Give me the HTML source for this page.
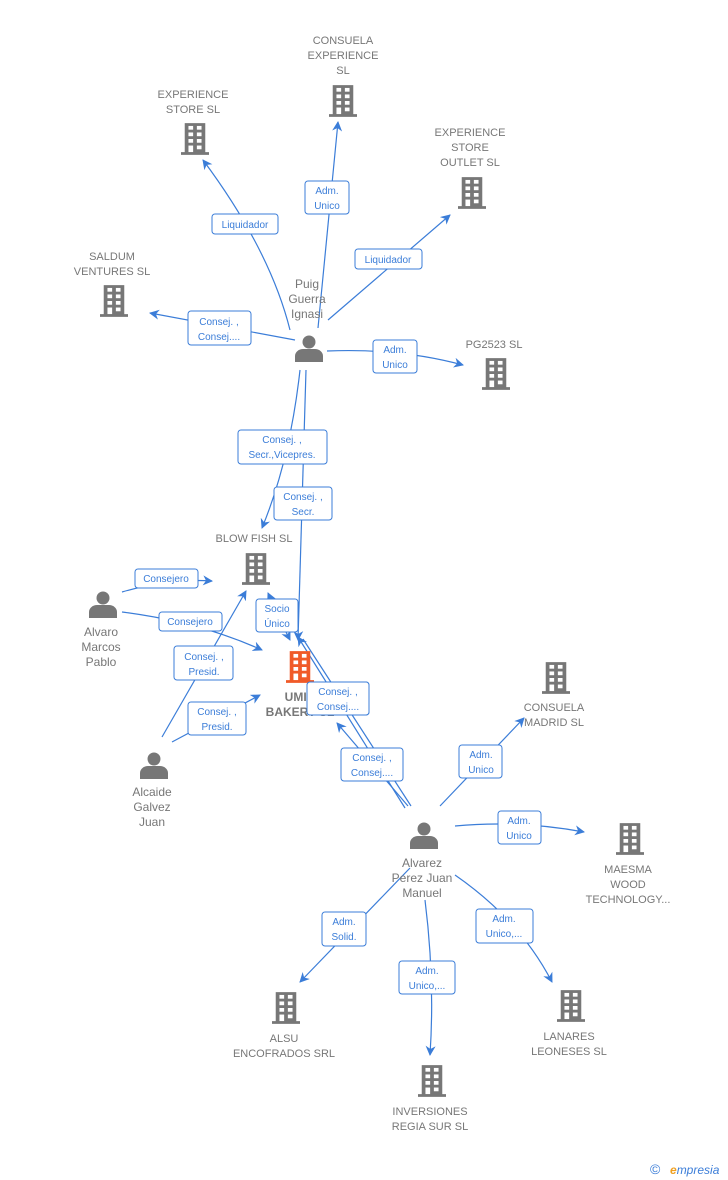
<!DOCTYPE html>
<html><head><meta charset="utf-8"><style>
body{margin:0;background:#fff;width:728px;height:1180px;overflow:hidden}
svg{display:block}
.n{font:11px "Liberation Sans",sans-serif;fill:#777;text-anchor:middle}
.p{font:12px "Liberation Sans",sans-serif;fill:#777;text-anchor:middle}
.l{font:10px "Liberation Sans",sans-serif;fill:#3b7dd8;text-anchor:middle}
.e{stroke:#3b7dd8;stroke-width:1.2;fill:none}
.b{fill:#fff;stroke:#3b7dd8;stroke-width:1}
</style></head><body>
<svg width="728" height="1180" viewBox="0 0 728 1180">
<defs>
<symbol id="bld" viewBox="0 0 30 34"><path fill="currentColor" d="M4 0h22v31h4v3H0v-3h4z"/><g fill="#fff"><rect x="8" y="3" width="5" height="4"/><rect x="17" y="3" width="5" height="4"/><rect x="8" y="10" width="5" height="4"/><rect x="17" y="10" width="5" height="4"/><rect x="8" y="17" width="5" height="4"/><rect x="17" y="17" width="5" height="4"/><rect x="8" y="24" width="5" height="7"/><rect x="17" y="24" width="5" height="4"/></g></symbol>
<symbol id="per" viewBox="0 0 28 28"><circle cx="14" cy="8" r="6.5" fill="#777"/><path fill="#777" d="M0 28v-6c0-4 4-7 8-7h12c4 0 8 3 8 7v6z"/></symbol>
<marker id="a" markerWidth="10" markerHeight="10" refX="9" refY="5" orient="auto" markerUnits="userSpaceOnUse"><path d="M0 0L10 5L0 10L3 5z" fill="#3b7dd8"/></marker>
</defs>
<g class="e" marker-end="url(#a)">
<path d="M290 330Q270 250 203 160"/>
<path d="M318 328L338 122"/>
<path d="M328 320L450 215"/>
<path d="M295 340L150 313"/>
<path d="M327 351Q400 348 463 365"/>
<path d="M300 370Q290 460 262 528"/>
<path d="M306 370L298 640"/>
<path d="M122 592Q170 578 212 581"/>
<path d="M122 612Q200 622 262 650"/>
<path d="M162 737L246 591"/>
<path d="M172 742L260 695"/>
<path d="M285 630L268 593"/>
<path d="M270 600L290 640"/>
<path d="M405 808L298 637"/>
<path d="M408 806L337 723"/>
<path d="M440 806L524 718"/>
<path d="M455 826Q520 820 584 832"/>
<path d="M410 868L300 982"/>
<path d="M425 900Q435 980 430 1055"/>
<path d="M455 875Q520 920 552 982"/>
</g>
<path class="e" d="M411 806L303 639"/>
<g>
<rect class="b" x="212" y="214" width="66" height="20" rx="3"/><text class="l" x="245" y="228">Liquidador</text>
<rect class="b" x="305" y="181" width="44" height="33" rx="3"/><text class="l" x="327" y="194">Adm.</text><text class="l" x="327" y="209">Unico</text>
<rect class="b" x="355" y="249" width="67" height="20" rx="3"/><text class="l" x="388" y="263">Liquidador</text>
<rect class="b" x="188" y="311" width="63" height="34" rx="3"/><text class="l" x="219" y="325">Consej. ,</text><text class="l" x="219" y="340">Consej....</text>
<rect class="b" x="373" y="340" width="44" height="33" rx="3"/><text class="l" x="395" y="353">Adm.</text><text class="l" x="395" y="368">Unico</text>
<rect class="b" x="238" y="430" width="89" height="34" rx="3"/><text class="l" x="282" y="443">Consej. ,</text><text class="l" x="282" y="458">Secr.,Vicepres.</text>
<rect class="b" x="274" y="487" width="58" height="33" rx="3"/><text class="l" x="303" y="500">Consej. ,</text><text class="l" x="303" y="515">Secr.</text>
<rect class="b" x="135" y="569" width="63" height="19" rx="3"/><text class="l" x="166" y="582">Consejero</text>
<rect class="b" x="159" y="612" width="63" height="19" rx="3"/><text class="l" x="190" y="625">Consejero</text>
<rect class="b" x="256" y="599" width="42" height="33" rx="3"/><text class="l" x="277" y="612">Socio</text><text class="l" x="277" y="627">Único</text>
<rect class="b" x="174" y="646" width="59" height="34" rx="3"/><text class="l" x="204" y="660">Consej. ,</text><text class="l" x="204" y="675">Presid.</text>
<rect class="b" x="188" y="702" width="58" height="33" rx="3"/><text class="l" x="217" y="715">Consej. ,</text><text class="l" x="217" y="730">Presid.</text>
<rect class="b" x="307" y="682" width="62" height="33" rx="3"/><text class="l" x="338" y="695">Consej. ,</text><text class="l" x="338" y="710">Consej....</text>
<rect class="b" x="341" y="748" width="62" height="33" rx="3"/><text class="l" x="372" y="761">Consej. ,</text><text class="l" x="372" y="776">Consej....</text>
<rect class="b" x="459" y="745" width="43" height="33" rx="3"/><text class="l" x="481" y="758">Adm.</text><text class="l" x="481" y="773">Unico</text>
<rect class="b" x="498" y="811" width="43" height="33" rx="3"/><text class="l" x="519" y="824">Adm.</text><text class="l" x="519" y="839">Unico</text>
<rect class="b" x="322" y="912" width="44" height="34" rx="3"/><text class="l" x="344" y="925">Adm.</text><text class="l" x="344" y="940">Solid.</text>
<rect class="b" x="399" y="961" width="56" height="33" rx="3"/><text class="l" x="427" y="974">Adm.</text><text class="l" x="427" y="989">Unico,...</text>
<rect class="b" x="476" y="909" width="57" height="34" rx="3"/><text class="l" x="504" y="922">Adm.</text><text class="l" x="504" y="937">Unico,...</text>
</g>
<g color="#777">
<use href="#bld" x="329" y="84" width="28" height="34"/>
<use href="#bld" x="181" y="122" width="28" height="34"/>
<use href="#bld" x="458" y="176" width="28" height="34"/>
<use href="#bld" x="100" y="284" width="28" height="34"/>
<use href="#bld" x="482" y="357" width="28" height="34"/>
<use href="#bld" x="242" y="552" width="28" height="34"/>
<use href="#bld" x="542" y="661" width="28" height="34"/>
<use href="#bld" x="616" y="822" width="28" height="34"/>
<use href="#bld" x="272" y="991" width="28" height="34"/>
<use href="#bld" x="418" y="1064" width="28" height="34"/>
<use href="#bld" x="557" y="989" width="28" height="34"/>
</g>
<use href="#bld" x="286" y="650" width="28" height="34" color="#f05a28"/>
<use href="#per" x="295" y="334" width="28" height="28"/>
<use href="#per" x="89" y="590" width="28" height="28"/>
<use href="#per" x="140" y="751" width="28" height="28"/>
<use href="#per" x="410" y="821" width="28" height="28"/>
<text class="n" x="343" y="44">CONSUELA</text><text class="n" x="343" y="59">EXPERIENCE</text><text class="n" x="343" y="74">SL</text>
<text class="n" x="193" y="98">EXPERIENCE</text><text class="n" x="193" y="113">STORE SL</text>
<text class="n" x="470" y="136">EXPERIENCE</text><text class="n" x="470" y="151">STORE</text><text class="n" x="470" y="166">OUTLET  SL</text>
<text class="n" x="112" y="260">SALDUM</text><text class="n" x="112" y="275">VENTURES SL</text>
<text class="n" x="494" y="348">PG2523  SL</text>
<text class="p" x="307" y="288">Puig</text><text class="p" x="307" y="303">Guerra</text><text class="p" x="307" y="318">Ignasi</text>
<text class="n" x="254" y="542">BLOW FISH  SL</text>
<text class="p" x="101" y="636">Alvaro</text><text class="p" x="101" y="651">Marcos</text><text class="p" x="101" y="666">Pablo</text>
<text class="n" x="300" y="701" style="font-weight:bold;font-size:12px">UMIK</text><text class="n" x="300" y="716" style="font-weight:bold;font-size:12px">BAKERY SL</text>
<rect class="b" x="307" y="682" width="62" height="33" rx="3"/><text class="l" x="338" y="695">Consej. ,</text><text class="l" x="338" y="710">Consej....</text>
<text class="p" x="152" y="796">Alcaide</text><text class="p" x="152" y="811">Galvez</text><text class="p" x="152" y="826">Juan</text>
<text class="n" x="554" y="711">CONSUELA</text><text class="n" x="554" y="726">MADRID SL</text>
<text class="p" x="422" y="867">Alvarez</text><text class="p" x="422" y="882">Perez Juan</text><text class="p" x="422" y="897">Manuel</text>
<text class="n" x="628" y="873">MAESMA</text><text class="n" x="628" y="888">WOOD</text><text class="n" x="628" y="903">TECHNOLOGY...</text>
<text class="n" x="284" y="1042">ALSU</text><text class="n" x="284" y="1057">ENCOFRADOS SRL</text>
<text class="n" x="430" y="1115">INVERSIONES</text><text class="n" x="430" y="1130">REGIA SUR SL</text>
<text class="n" x="569" y="1040">LANARES</text><text class="n" x="569" y="1055">LEONESES  SL</text>
<text x="650" y="1174" style="font:14px 'Liberation Sans',sans-serif;fill:#3b7dd8">©</text>
<text x="670" y="1174" style="font:italic 12px 'Liberation Sans',sans-serif;fill:#3b7dd8"><tspan fill="#f0a020" font-weight="bold">e</tspan>mpresia</text>
</svg>
</body></html>
